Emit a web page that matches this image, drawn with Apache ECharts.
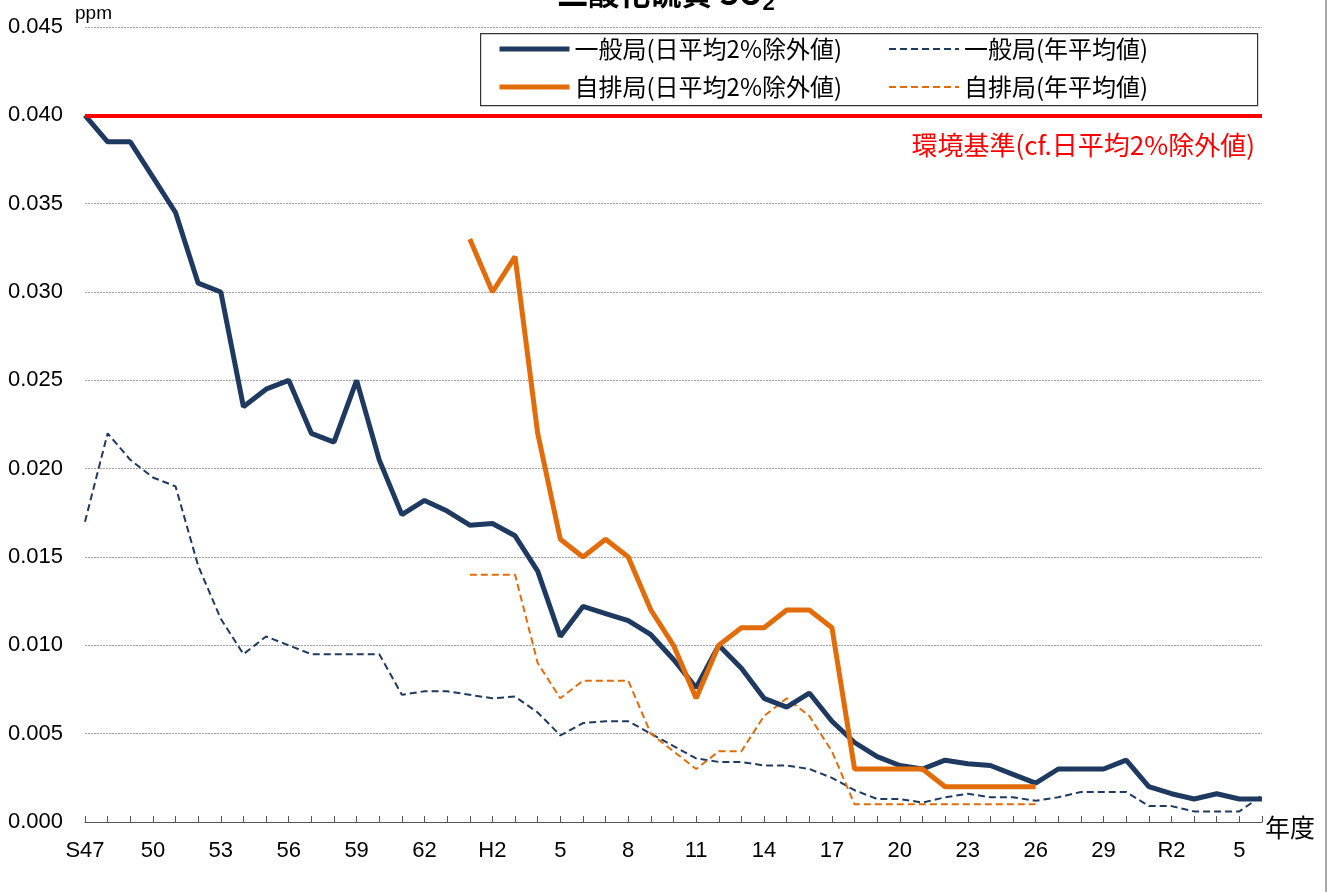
<!DOCTYPE html>
<html>
<head>
<meta charset="utf-8">
<script src="https://cdn.jsdelivr.net/npm/echarts@6/dist/echarts.min.js"></script>
<style>
html,body{margin:0;padding:0;background:#fff;}
#chart{width:1332px;height:892px;}
</style>
</head>
<body>
<div id="chart"></div>
<script>
// Fiscal years S47 .. S63, H1 .. H30, R1 .. R6
const categories = [
  'S47','S48','S49','S50','S51','S52','S53','S54','S55','S56','S57','S58','S59','S60','S61','S62','S63',
  'H1','H2','H3','H4','H5','H6','H7','H8','H9','H10','H11','H12','H13','H14','H15','H16','H17','H18','H19','H20',
  'H21','H22','H23','H24','H25','H26','H27','H28','H29','H30',
  'R1','R2','R3','R4','R5','R6'
];
// Displayed tick labels (every 3rd year)
const tickLabels = ['S47','50','53','56','59','62','H2','5','8','11','14','17','20','23','26','29','R2','5'];
const yTicks = [0, 0.005, 0.010, 0.015, 0.020, 0.025, 0.030, 0.035, 0.040, 0.045];

// 一般局(日平均2%除外値)
const generalDaily = [
  0.0400,0.0385,0.0385,0.0365,0.0345,0.0305,0.0300,0.0235,0.0245,0.0250,0.0220,0.0215,0.0250,0.0205,0.0174,0.0182,0.0176,
  0.0168,0.0169,0.0162,0.0142,0.0105,0.0122,0.0118,0.0114,0.0106,0.0092,0.0076,0.0100,0.0087,0.0070,0.0065,0.0073,0.0057,0.0045,0.0037,0.0032,
  0.0030,0.0035,0.0033,0.0032,0.0027,0.0022,0.0030,0.0030,0.0030,0.0035,
  0.0020,0.0016,0.0013,0.0016,0.0013,0.0013
];
// 一般局(年平均値)
const generalAnnual = [
  0.0170,0.0220,0.0205,0.0195,0.0190,0.0145,0.0115,0.0095,0.0105,0.0100,0.0095,0.0095,0.0095,0.0095,0.0072,0.0074,0.0074,
  0.0072,0.0070,0.0071,0.0062,0.0049,0.0056,0.0057,0.0057,0.0050,0.0043,0.0036,0.0034,0.0034,0.0032,0.0032,0.0030,0.0025,0.0018,0.0013,0.0013,
  0.0011,0.0014,0.0016,0.0014,0.0014,0.0012,0.0014,0.0017,0.0017,0.0017,
  0.0009,0.0009,0.0006,0.0006,0.0006,0.0015
];
// 自排局(日平均2%除外値)
const roadsideDaily = [
  null,null,null,null,null,null,null,null,null,null,null,null,null,null,null,null,null,
  0.033,0.030,0.032,0.022,0.016,0.015,0.016,0.015,0.012,0.010,0.007,0.010,0.011,0.011,0.012,0.012,0.011,0.003,0.003,0.003,
  0.003,0.002,0.002,0.002,0.002,0.002,null,null,null,null,
  null,null,null,null,null,null
];
// 自排局(年平均値)
const roadsideAnnual = [
  null,null,null,null,null,null,null,null,null,null,null,null,null,null,null,null,null,
  0.014,0.014,0.014,0.009,0.007,0.008,0.008,0.008,0.005,0.004,0.003,0.004,0.004,0.006,0.007,0.006,0.004,0.001,0.001,0.001,
  0.001,0.001,0.001,0.001,0.001,0.001,null,null,null,null,
  null,null,null,null,null,null
];
const STANDARD = 0.040;

const NAVY = '#1f3a60';
const ORANGE = '#e36c0a';
const JP = '"Noto Sans CJK JP", sans-serif';
const NUM = '"Liberation Sans", Arial, sans-serif';

const chart = echarts.init(document.getElementById('chart'), null, {renderer: 'canvas'});

function legendItem(name, left, top, lineStyle) {
  return {
    left: left, top: top, padding: 0, itemWidth: 70, itemHeight: 14,
    data: [name], selectedMode: false,
    itemStyle: {opacity: 0},
    lineStyle: lineStyle,
    textStyle: {fontFamily: JP, fontSize: 24, color: '#000'}
  };
}

const option = {
  animation: false,
  backgroundColor: '#fff',
  title: {
    text: '二酸化硫黄 SO{sub|2}',
    left: 'center', top: -34,
    textStyle: {
      fontFamily: JP, fontSize: 31, fontWeight: 'bold', color: '#000',
      rich: {sub: {fontFamily: NUM, fontSize: 22, fontWeight: 'bold', padding: [22, 0, 0, 0], color: '#000'}}
    }
  },
  legend: [
    legendItem('一般局(日平均2%除外値)', 497, 37, {width: 5}),
    legendItem('一般局(年平均値)', 888, 37, {width: 2, type: [7, 4]}),
    legendItem('自排局(日平均2%除外値)', 497, 75, {width: 5}),
    legendItem('自排局(年平均値)', 888, 75, {width: 2, type: [7, 4]})
  ],
  grid: {left: 85, right: 70, top: 27, bottom: 70, containLabel: false},
  xAxis: {
    type: 'category', data: categories, boundaryGap: false,
    axisLine: {show: true, lineStyle: {color: '#555', width: 1}},
    axisTick: {show: true, inside: true, length: 6, interval: 0, lineStyle: {color: '#555'}},
    axisLabel: {
      interval: 2, margin: 18, fontFamily: NUM, fontSize: 22, color: '#000',
      formatter: (v, i) => tickLabels[Math.round(i / 3)]
    },
    splitLine: {show: false}
  },
  yAxis: {
    type: 'value', min: yTicks[0], max: yTicks[yTicks.length - 1], interval: 0.005,
    axisLine: {show: false}, axisTick: {show: false},
    axisLabel: {margin: 22, fontFamily: NUM, fontSize: 22, color: '#000', formatter: v => v.toFixed(3)},
    splitLine: {show: true, lineStyle: {color: '#a0a0a0', width: 1, type: [2, 1]}}
  },
  series: [
    {
      name: '一般局(年平均値)', type: 'line', data: generalAnnual, symbol: 'none', z: 2,
      lineStyle: {color: NAVY, width: 2, type: [7, 4]}, itemStyle: {color: NAVY}
    },
    {
      name: '自排局(年平均値)', type: 'line', data: roadsideAnnual, symbol: 'none', z: 2,
      lineStyle: {color: ORANGE, width: 2, type: [7, 4]}, itemStyle: {color: ORANGE}
    },
    {
      name: '一般局(日平均2%除外値)', type: 'line', data: generalDaily, symbol: 'none', z: 3,
      lineStyle: {color: NAVY, width: 5}, itemStyle: {color: NAVY},
      markLine: {
        silent: true, symbol: 'none', label: {show: false},
        lineStyle: {color: '#ff0000', width: 4, type: 'solid'},
        data: [{yAxis: STANDARD}]
      }
    },
    {
      name: '自排局(日平均2%除外値)', type: 'line', data: roadsideDaily, symbol: 'none', z: 4,
      lineStyle: {color: ORANGE, width: 5}, itemStyle: {color: ORANGE}
    }
  ],
  graphic: [
    {type: 'rect', left: 480, top: 33, z: 1, silent: true,
     shape: {width: 777, height: 72}, style: {fill: '#fff', stroke: '#333', lineWidth: 1.2}},
    {type: 'text', left: 75, top: 4, silent: true,
     style: {text: 'ppm', fontFamily: NUM, fontSize: 19, fill: '#000'}},
    {type: 'text', left: 1265, top: 815, silent: true,
     style: {text: '年度', fontFamily: JP, fontSize: 25, fill: '#000'}},
    {type: 'text', right: 77, top: 132, silent: true,
     style: {text: '環境基準(cf.日平均2%除外値)', fontFamily: JP, fontSize: 26, fill: '#ff0000'}},
    {type: 'line', silent: true, shape: {x1: 1326, y1: 0, x2: 1326, y2: 892},
     style: {stroke: '#555', lineWidth: 1}}
  ]
};
chart.setOption(option);
</script>
</body>
</html>
